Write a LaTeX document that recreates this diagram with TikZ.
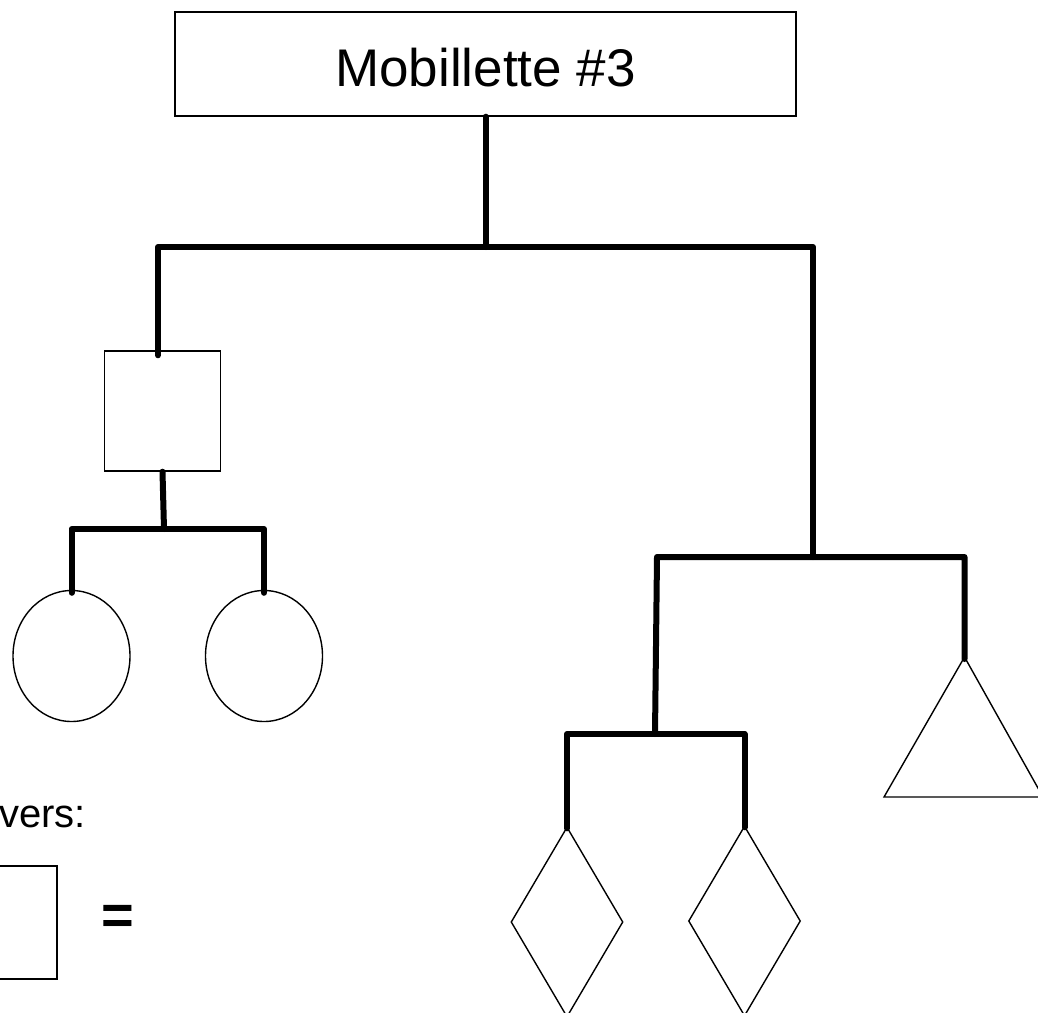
\documentclass[tikz,border=0pt]{standalone}
\usepackage{fontspec}
\setmainfont{Liberation Sans}
\usetikzlibrary{shapes.geometric}
\begin{document}
\begin{tikzpicture}[x=1pt,y=-1pt,
  thin outline/.style={draw=black, line width=1.4pt, inner sep=0pt, fill=white},
  bar/.style={line width=6pt, line cap=round, line join=round},
  boxshape/.style={thin outline, rectangle},
  ellshape/.style={thin outline, ellipse, minimum width=117pt, minimum height=131pt},
  diashape/.style={thin outline, diamond, minimum width=112pt, minimum height=190pt}]
\useasboundingbox (0,0) rectangle (1038,1012);
\clip (0,0) rectangle (1038,1012);
% nodes
\node[boxshape, minimum width=621pt, minimum height=104pt] (title) at (485.5,64) {};
\node[inner sep=0pt, font=\fontsize{53}{60}\selectfont] (titletext) at (485.5,68) {Mobillette \#3};
\node[boxshape, minimum width=116pt, minimum height=120pt] (sq) at (162.5,411) {};
\node[ellshape] (c1) at (71.5,656) {};
\node[ellshape] (c2) at (264,656) {};
\node[diashape] (d1) at (567,922) {};
\node[diashape] (d2) at (744.5,921) {};
\coordinate (tri) at (964.5,657);
\draw[line width=1.4pt, line join=miter] (tri) -- (1043,797) -- (884,797) -- cycle;
\node[boxshape, minimum width=116pt, minimum height=113pt] (leg) at (-1,922.5) {};
\node[anchor=base east, inner sep=0pt, font=\fontsize{40}{46}\selectfont] (lab) at (86,827) {vers:};
\node[inner sep=0pt, font=\fontsize{56}{60}\selectfont\bfseries] (eq) at (118,920) {=};
% junction coordinates
\coordinate (j1L) at (158,247);
\coordinate (j1R) at (813,247);
\coordinate (j2L) at (657,557);
\coordinate (j2R) at (965,557);
\coordinate (j3) at (655,734);
\coordinate (j4) at (164,529);
% connectors
\draw[bar] (title.south) -- (title.south |- j1L);
\draw[bar] ([yshift=-5pt]sq.north -| j1L) -- (j1L) -- (j1R) -- (j1R |- j2L);
\draw[bar] ([yshift=-2pt]tri) -- (tri |- j2R) -- (j2L) -- (j3);
\draw[bar] ([yshift=-2pt]d1.north) -- (d1.north |- j3) -- (d2.north |- j3) -- ([yshift=-2pt]d2.north);
\draw[bar] (sq.south) -- (j4);
\draw[bar] ([yshift=-3pt]c1.north) -- (c1.north |- j4) -- (c2.north |- j4) -- ([yshift=-3pt]c2.north);
\end{tikzpicture}
\end{document}
